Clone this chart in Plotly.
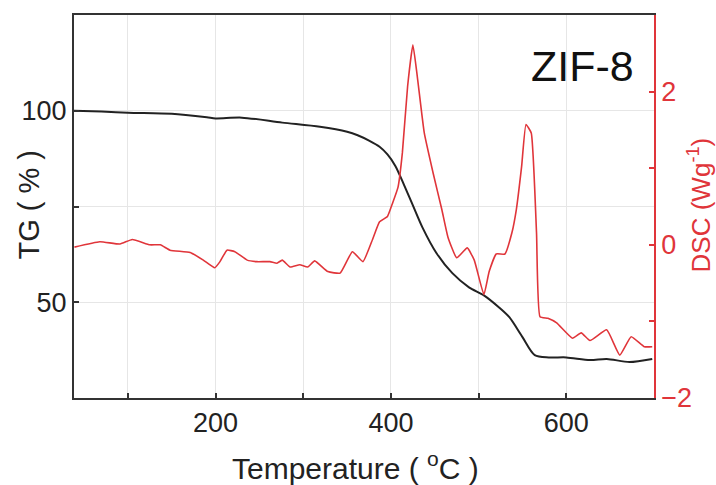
import plotly.graph_objects as go

# TG curve (black, left axis)
tg_temp = [38, 70, 100, 150, 190, 200, 230, 276, 319, 350, 362, 375, 387, 396, 405, 415, 425,
           436, 452, 470, 489, 506, 523, 535, 550, 564, 580, 600, 627, 646, 672, 698]
tg_val = [100, 99.8, 99.5, 99.2, 98.3, 98.0, 98.2, 96.9, 95.8, 94.5, 93.6, 92.2, 90.6, 88.6,
          85.6, 80.6, 75.3, 69.5, 62.8, 57.6, 53.9, 51.8, 48.7, 46.1, 40.9, 36.2, 35.6, 35.6,
          34.9, 35.2, 34.4, 35.2]

# DSC curve (red, right axis)
dsc_temp = [39, 68, 91, 105, 125, 137, 148, 171, 186, 199, 205, 213, 222, 236, 247, 262, 270,
            276, 285, 296, 305, 313, 328, 342, 356, 368, 379, 387, 396, 402, 408, 413, 419,
            425, 430, 438, 448, 458, 465, 475, 487, 495, 506, 512, 520, 530, 538, 543, 549,
            554, 560, 566, 570, 579, 589, 607, 617, 627, 646, 661, 674, 689, 698]
dsc_val = [-0.03, 0.04, 0.01, 0.07, 0.0, 0.0, -0.07, -0.1, -0.2, -0.3, -0.22, -0.07, -0.09,
           -0.2, -0.22, -0.22, -0.24, -0.2, -0.29, -0.26, -0.29, -0.21, -0.35, -0.37, -0.09,
           -0.22, 0.07, 0.3, 0.37, 0.55, 0.75, 1.2, 2.07, 2.61, 2.2, 1.46, 0.94, 0.46, 0.1,
           -0.17, -0.04, -0.2, -0.65, -0.35, -0.12, -0.12, 0.16, 0.46, 1.02, 1.57, 1.46, 0.16,
           -0.94, -0.96, -1.02, -1.22, -1.15, -1.25, -1.11, -1.44, -1.2, -1.33, -1.33]

x_major = [200, 400, 600]
x_minor = [100, 300, 500]
tg_major = [50, 100]
tg_minor = [75]
dsc_major = [-2, 0, 2]
dsc_minor = [-1, 1]

RED = "#e0353a"
DARK = "#333333"
GRID = "#e6e6e6"
FONT = "Arial, Liberation Sans, sans-serif"

fig = go.Figure()
fig.add_trace(go.Scatter(x=tg_temp, y=tg_val, mode="lines",
                         line=dict(color="#222222", width=2, shape="spline", smoothing=0.8),
                         showlegend=False))
fig.add_trace(go.Scatter(x=dsc_temp, y=dsc_val, mode="lines", yaxis="y2",
                         line=dict(color=RED, width=1.6, shape="spline", smoothing=0.4),
                         showlegend=False))

fig.update_layout(
    width=716, height=485,
    margin=dict(l=74, r=62, t=15, b=87),
    paper_bgcolor="white", plot_bgcolor="white",
    font=dict(family=FONT, size=27, color="#222222"),
    xaxis=dict(range=[38.5, 700], tickvals=x_major, ticks="inside", ticklen=5,
               tickcolor=DARK, tickwidth=1.5, showline=True, linecolor=DARK, linewidth=2,
               mirror=True, showgrid=True, gridcolor=GRID, gridwidth=1, zeroline=False,
               minor=dict(tickvals=x_minor, ticks="inside", ticklen=5, tickcolor=DARK,
                          showgrid=True, gridcolor=GRID, gridwidth=1),
               tickfont=dict(size=27, color="#222222")),
    yaxis=dict(range=[25, 125], tickvals=tg_major, ticks="inside", ticklen=5,
               tickcolor=DARK, tickwidth=1.5, showline=True, linecolor=DARK, linewidth=2,
               showgrid=True, gridcolor=GRID, gridwidth=1, zeroline=False,
               minor=dict(tickvals=tg_minor, ticks="inside", ticklen=5, tickcolor=DARK,
                          showgrid=True, gridcolor=GRID, gridwidth=1),
               tickfont=dict(size=27, color="#222222")),
    yaxis2=dict(range=[-2, 3], overlaying="y", side="right", tickvals=dsc_major,
                ticks="inside", ticklen=5, tickcolor=RED, tickwidth=1.5,
                showline=True, linecolor=RED, linewidth=1.5, showgrid=False, zeroline=False,
                minor=dict(tickvals=dsc_minor, ticks="inside", ticklen=5, tickcolor=RED),
                tickfont=dict(size=27, color=RED)),
    annotations=[
        dict(text="ZIF-8", x=0.876, y=0.867, xref="paper", yref="paper", showarrow=False,
             xanchor="center", yanchor="middle", font=dict(size=43, color="#111111")),
        dict(text="TG ( % )", x=-0.0776, y=0.505, xref="paper", yref="paper", showarrow=False,
             textangle=-90, xanchor="center", yanchor="middle",
             font=dict(size=29, color="#222222")),
        dict(text="DSC (Wg<sup>-1</sup>)", x=1.079, y=0.505, xref="paper", yref="paper",
             showarrow=False, textangle=-90, xanchor="center", yanchor="middle",
             font=dict(size=26, color=RED)),
        dict(text="Temperature ( <sup>o</sup>C )", x=0.4845, y=-0.1775, xref="paper",
             yref="paper", showarrow=False, xanchor="center", yanchor="middle",
             font=dict(size=30, color="#222222")),
    ],
)

fig.write_html("out.html")
